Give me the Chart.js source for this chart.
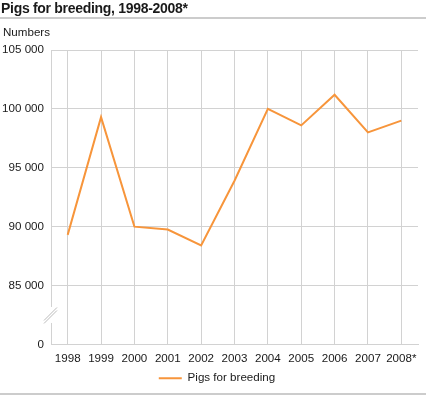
<!DOCTYPE html>
<html>
<head>
<meta charset="utf-8">
<script src="https://cdn.jsdelivr.net/npm/chart.js@4.4.1/dist/chart.umd.min.js"></script>
<style>
html,body{margin:0;padding:0;background:#fff;}
#wrap{width:426px;height:395px;position:relative;}
</style>
</head>
<body>
<div id="wrap"><canvas id="c" width="426" height="395"></canvas></div>
<script>
const titleText = 'Pigs for breeding, 1998-2008*';
const unitLabel = 'Numbers';
const seriesName = 'Pigs for breeding';
const categories = ['1998','1999','2000','2001','2002','2003','2004','2005','2006','2007','2008*'];
const pigs = [89300, 99300, 90000, 89750, 88400, 93900, 100000, 98600, 101200, 98000, 99000];
const yTicks = [80000, 85000, 90000, 95000, 100000, 105000];
const yTickLabels = ['0', '85 000', '90 000', '95 000', '100 000', '105 000'];

const FONT = '"Liberation Sans", Arial, sans-serif';
const TEXT = '#1a1a1a';
const GRID = '#d2d2d2';
const FS = 11.6;

const decor = {
  id: 'decor',
  afterLayout(chart) {
    const lg = chart.legend;
    if (lg) { lg.left += 8; lg.right += 8; }
  },
  afterDraw(chart) {
    const ctx = chart.ctx;
    const y = chart.scales.y;
    ctx.save();
    // title
    ctx.fillStyle = TEXT;
    ctx.font = 'bold 14px ' + FONT;
    ctx.textBaseline = 'alphabetic';
    ctx.textAlign = 'left';
    try { ctx.letterSpacing = '-0.3px'; } catch (e) {}
    ctx.fillText(titleText, 1, 13);
    try { ctx.letterSpacing = '0px'; } catch (e) {}
    // separators
    ctx.fillStyle = '#cccccc';
    ctx.fillRect(0, 17, 426, 2);
    ctx.fillRect(0, 393, 426, 2);
    // unit
    ctx.fillStyle = TEXT;
    ctx.font = FS + 'px ' + FONT;
    ctx.fillText(unitLabel, 3, 36);
    // axis break
    const cy = y.getPixelForValue(82500);
    const ax = chart.chartArea.left;
    ctx.fillStyle = '#ffffff';
    ctx.fillRect(ax - 2, cy - 8, 4, 16);
    ctx.strokeStyle = '#bbbbbb';
    ctx.lineWidth = 1;
    for (const d of [-1.5, 1.5]) {
      ctx.beginPath();
      ctx.moveTo(ax - 7, cy + 7 + d);
      ctx.lineTo(ax + 6, cy - 6 + d);
      ctx.stroke();
    }
    ctx.restore();
  }
};

new Chart(document.getElementById('c'), {
  type: 'line',
  data: {
    labels: categories,
    datasets: [{
      label: seriesName,
      data: pigs,
      borderColor: '#f7953b',
      backgroundColor: '#f7953b',
      borderWidth: 2,
      pointRadius: 0,
      pointHoverRadius: 0,
      tension: 0,
      fill: false
    }]
  },
  options: {
    responsive: false,
    animation: false,
    events: [],
    layout: { padding: { top: 50, left: 0, right: 8, bottom: 1 } },
    plugins: {
      title: { display: false },
      tooltip: { enabled: false },
      legend: {
        position: 'bottom',
        labels: {
          usePointStyle: true,
          pointStyle: 'line',
          pointStyleWidth: 23,
          padding: 10,
          color: TEXT,
          font: { family: FONT, size: FS }
        }
      }
    },
    scales: {
      x: {
        offset: true,
        grid: { offset: false, color: GRID, lineWidth: 1, drawTicks: false },
        border: { display: true, color: GRID },
        ticks: { color: TEXT, font: { family: FONT, size: FS }, padding: 7, maxRotation: 0, autoSkip: false },
        afterFit(s) { s.height = 18; }
      },
      y: {
        min: 80000,
        max: 105000,
        afterBuildTicks(s) { s.ticks = yTicks.map(v => ({ value: v })); },
        grid: { color: GRID, lineWidth: 1, drawTicks: false },
        border: { display: true, color: GRID },
        ticks: {
          color: TEXT,
          font: { family: FONT, size: FS },
          padding: 7,
          callback(v) { const i = yTicks.indexOf(v); return i >= 0 ? yTickLabels[i] : ''; }
        },
        afterFit(s) { s.width = 51; }
      }
    }
  },
  plugins: [decor]
});
</script>
</body>
</html>
